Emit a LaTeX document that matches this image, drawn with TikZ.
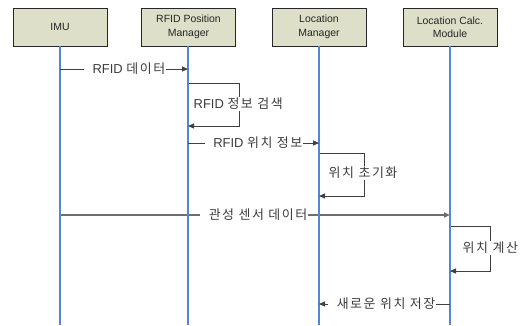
\documentclass[tikz,border=0pt]{standalone}
\usepackage{fontspec}
\setmainfont{Liberation Sans}
\newfontfamily\kr[LetterSpace=12]{Noto Sans CJK KR}
\usetikzlibrary{arrows.meta}
\definecolor{boxfill}{RGB}{221,223,201}
\definecolor{lifeblue}{RGB}{84,134,212}
\definecolor{msggray}{RGB}{64,64,64}
\definecolor{longgray}{RGB}{110,110,110}
\definecolor{txtgray}{RGB}{60,60,60}
\begin{document}
\begin{tikzpicture}[x=1bp,y=-1bp,
 actor/.style={draw=black!85, line width=0.8bp, fill=boxfill, minimum width=94bp, minimum height=38bp, inner sep=0pt, align=center, font=\fontsize{10.5}{13.5}\selectfont, text=black!85},
 lifeline/.style={draw=lifeblue, line width=1.2bp},
 msg/.style={draw=msggray, line width=0.9bp, -{Triangle[length=6bp,width=5bp]}},
 lbl/.style={fill=white, inner xsep=0.5bp, inner ysep=1bp, text=txtgray, font=\fontsize{13}{15}\selectfont}
]
\useasboundingbox (0,0) rectangle (523,325);
\node[actor] (imu) at (60,27) {IMU};
\node[actor] (rpm) at (188.5,27) {RFID Position\\Manager};
\node[actor] (lm) at (319,27) {Location\\Manager};
\node[actor] (lcm) at (450,27) {Location Calc.\\Module};
\coordinate (imuB) at (60,325);
\coordinate (rpmB) at (188,325);
\coordinate (lmB) at (319,325);
\coordinate (lcmB) at (450,325);
% message 5 (drawn beneath the lifelines)
\coordinate (m5a) at (60,215);
\coordinate (m5b) at (450,215);
\draw[msg, draw=longgray, line width=1.6bp, -{Triangle[length=6bp,width=5bp,fill=msggray]}] (m5a) -- (m5b);
\node[lbl, anchor=east] (l5) at (308,215) {\hspace{8bp}\kr 관성 센서 데이터};
\draw[lifeline] (imu.south) -- (imuB);
\draw[lifeline] (rpm.south -| rpmB) -- (rpmB);
\draw[lifeline] (lm.south) -- (lmB);
\draw[lifeline] (lcm.south) -- (lcmB);
% message 1
\coordinate (m1a) at (60,69);
\coordinate (m1b) at (188,69);
\draw[msg] (m1a) -- (m1b);
\node[lbl, anchor=east] (l1) at (166,69) {\hspace{8bp}RFID {\kr 데이터}};
% loop 1
\coordinate (s1a) at (189,83);
\coordinate (s1b) at (239,83);
\coordinate (s1c) at (239,126);
\coordinate (s1d) at (188,126);
\draw[msg] (s1a) -- (s1b) -- (s1c) -- (s1d);
\node[lbl, anchor=west] (l2) at (193,104) {RFID {\kr 정보 검색}};
% message 3
\coordinate (m3a) at (188,143);
\coordinate (m3b) at (319,143);
\draw[msg] (m3a) -- (m3b);
\node[lbl, anchor=east] (l3) at (303,143) {\hspace{8bp}RFID {\kr 위치 정보}};
% loop 2
\coordinate (s2a) at (320,153);
\coordinate (s2b) at (364,153);
\coordinate (s2c) at (364,196);
\coordinate (s2d) at (319,196);
\draw[msg] (s2a) -- (s2b) -- (s2c) -- (s2d);
\node[lbl, anchor=west] (l4) at (328,173) {\kr 위치 초기화};
% loop 3
\coordinate (s3a) at (451,226);
\coordinate (s3b) at (490,226);
\coordinate (s3c) at (490,271);
\coordinate (s3d) at (450,271);
\draw[msg] (s3a) -- (s3b) -- (s3c) -- (s3d);
\node[lbl, anchor=west] (l6) at (462,248) {\kr 위치 계산};
% message 7
\coordinate (m7a) at (450,304);
\coordinate (m7b) at (319,304);
\draw[msg] (m7a) -- (m7b);
\node[lbl, anchor=east] (l7) at (436,304) {\hspace{8bp}\kr 새로운 위치 저장};
\end{tikzpicture}
\end{document}
